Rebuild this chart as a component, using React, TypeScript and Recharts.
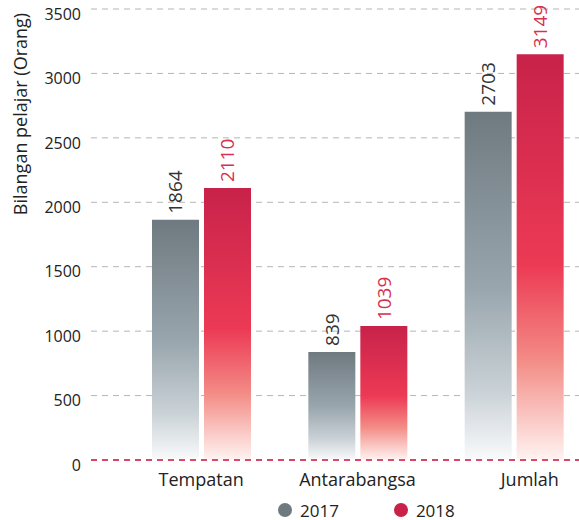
import { BarChart, Bar, XAxis, YAxis, CartesianGrid, ReferenceLine, Legend, LabelList } from "recharts";

const categories = ["Tempatan", "Antarabangsa", "Jumlah"];
const students2017 = [1864, 839, 2703];
const students2018 = [2110, 1039, 3149];
const yTicks = [0, 500, 1000, 1500, 2000, 2500, 3000, 3500];
const seriesNames = ["2017", "2018"];

const data = categories.map((name, i) => ({
  name,
  y2017: students2017[i],
  y2018: students2018[i],
}));

const FONT = "'Open Sans', sans-serif";
const GREY = "#6f7a80";
const RED = "#c8224a";

function makeBarLabel(color: string) {
  return (props: any) => {
    const { x, y, width, value } = props;
    const cx = Number(x) + Number(width) / 2 + 7;
    const cy = Number(y) - 6;
    return (
      <text
        x={cx}
        y={cy}
        transform={`rotate(-90 ${cx} ${cy})`}
        fill={color}
        fontSize={19}
        fontFamily={FONT}
        textAnchor="start"
      >
        {value}
      </text>
    );
  };
}

// the last label ("Jumlah") sits a bit right of its group in the original
function CategoryTick(props: any) {
  const { x, y, payload, index } = props;
  const shift = index === categories.length - 1 ? 16 : 0;
  return (
    <text x={x + shift} y={y} dy="0.71em" textAnchor="middle" fontSize={18} fontFamily={FONT} fill="#222">
      {payload.value}
    </text>
  );
}

function renderLegend() {
  const colors = [GREY, RED];
  return (
    <div style={{ display: "flex", height: 20, alignItems: "center", fontFamily: FONT, fontSize: 17, color: "#222" }}>
      {seriesNames.map((s, i) => (
        <div key={s} style={{ display: "flex", alignItems: "center", marginRight: i === 0 ? 55 : 0 }}>
          <span style={{ width: 14, height: 14, borderRadius: 7, background: colors[i], display: "inline-block", marginRight: 8 }} />
          <span>{s}</span>
        </div>
      ))}
    </div>
  );
}

function YAxisTitle(props: any) {
  const vb = props.viewBox || { x: 0, y: 9 };
  const x = 27;
  const y = vb.y + 105;
  return (
    <text x={x} y={y} transform={`rotate(-90 ${x} ${y})`} textAnchor="middle" fontSize={18} fontFamily={FONT} fill="#222">
      Bilangan pelajar (Orang)
    </text>
  );
}

export default function App() {
  return (
    <div style={{ position: "absolute", left: 0, top: 0, width: 579, height: 520, overflow: "hidden", background: "#fff" }}>
      <BarChart
        width={592}
        height={520}
        data={data}
        margin={{ top: 9, right: 0, left: 0, bottom: 0 }}
        barSize={47}
        barGap={5}
      >
        <defs>
          <linearGradient id="grad2017" x1="0" y1="0" x2="0" y2="1">
            <stop offset="0%" stopColor="#6f7a80" />
            <stop offset="50%" stopColor="#98a5ac" />
            <stop offset="80%" stopColor="#c9d1d6" />
            <stop offset="100%" stopColor="#f9fafb" />
          </linearGradient>
          <linearGradient id="grad2018" x1="0" y1="0" x2="0" y2="1">
            <stop offset="0%" stopColor="#c8224a" />
            <stop offset="52%" stopColor="#ec3a55" />
            <stop offset="75%" stopColor="#f38a84" />
            <stop offset="100%" stopColor="#fff3f1" />
          </linearGradient>
        </defs>
        <CartesianGrid vertical={false} stroke="#b5b5b5" strokeDasharray="6 5" />
        <XAxis
          dataKey="name"
          axisLine={false}
          tickLine={false}
          tickMargin={7}
          height={40}
          padding={{ left: 32, right: 0 }}
          tick={<CategoryTick />}
        />
        <YAxis
          domain={[0, 3500]}
          ticks={yTicks}
          axisLine={false}
          tickLine={false}
          tickMargin={4}
          width={91}
          tick={{ fontSize: 16, fontFamily: FONT, fill: "#222", dy: 5 }}
          label={<YAxisTitle />}
        />
        <ReferenceLine y={0} stroke="#d6173f" strokeWidth={1.3} strokeDasharray="6 5" />
        <Legend verticalAlign="bottom" content={renderLegend} wrapperStyle={{ left: 278, width: "auto" }} />
        <Bar dataKey="y2017" name="2017" fill="url(#grad2017)" isAnimationActive={false}>
          <LabelList dataKey="y2017" content={makeBarLabel("#333")} />
        </Bar>
        <Bar dataKey="y2018" name="2018" fill="url(#grad2018)" isAnimationActive={false}>
          <LabelList dataKey="y2018" content={makeBarLabel("#d8304f")} />
        </Bar>
      </BarChart>
    </div>
  );
}
